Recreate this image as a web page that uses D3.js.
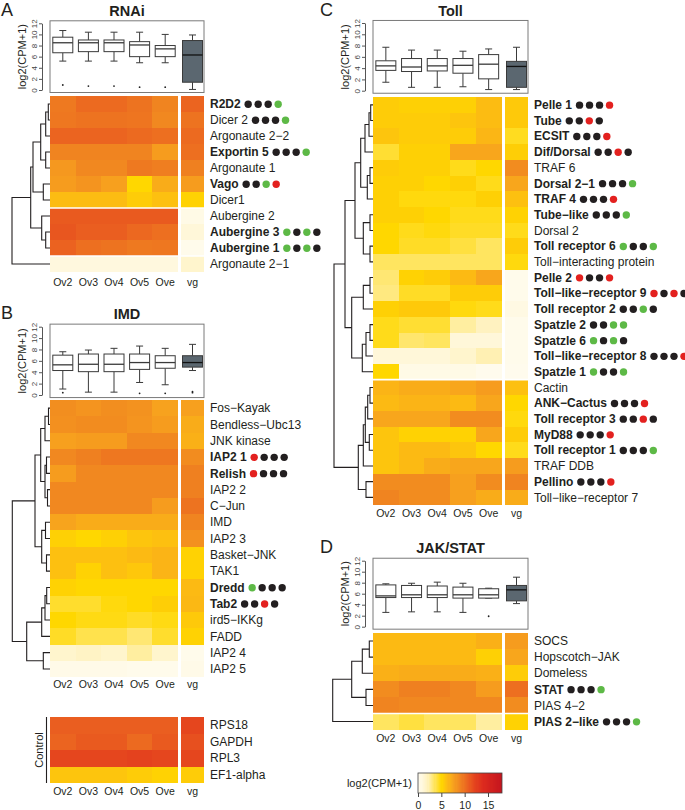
<!DOCTYPE html>
<html><head><meta charset="utf-8">
<script src="https://cdn.jsdelivr.net/npm/d3@7"></script>
<style>body{margin:0;background:#fff} svg{font-family:"Liberation Sans",Arial,Helvetica,sans-serif}</style>
</head><body><svg id="c" width="685" height="810"></svg>
<script>
const samples = ["Ov2","Ov3","Ov4","Ov5","Ove","vg"];
const yTicks = [0,2,4,6,8,10,12];
const legendTicks = [0,5,10,15];
const colorStops = [0, 2, 4, 5, 6, 7.5, 9, 10.5, 12, 14, 18];
const colorRange = ["#FFFCF2","#FFF2C0","#FFE040","#FFD700","#FDC010","#F7A21E","#F08420","#EB6420","#E5461E","#DC2A1E","#C4141E"];

// ---------- RNAi ----------
const rnaiGenes = ["R2D2","Dicer 2","Argonaute 2−2","Exportin 5","Argonaute 1","Vago","Dicer1","Aubergine 2","Aubergine 3","Aubergine 1","Argonaute 2−1"];
const rnaiValues = [
  [9.5,10.2,10.2,9.8,9.0,10.5],
  [9.6,9.8,9.8,9.7,8.8,9.8],
  [10.5,10.5,10.5,10.2,10.0,10.2],
  [9.0,9.0,9.0,9.0,7.8,10.0],
  [8.0,8.8,8.8,9.5,9.3,9.2],
  [7.8,8.2,7.6,5.0,7.0,7.8],
  [6.2,6.2,6.2,5.5,6.0,5.2],
  [11.0,11.0,11.0,11.0,11.0,0.5],
  [11.2,10.8,10.8,10.3,10.0,1.0],
  [10.6,10.0,9.8,9.5,9.6,0.3],
  [0.8,0.8,0.8,0.8,0.8,1.5]];
const rnaiDots = ["kkkg","kkkg","","kkkg","","kkgr","","","gkgk","gkgk",""];
const rnaiBold = [1,0,0,1,0,1,0,0,1,1,0];
const rnaiTree = [38,[19.3,[17,[9.3,[4.3,[1.7,0,1],2],[4.3,3,4]],[6.7,5,6]],[8.3,7,[4.3,8,9]]],10];
const rnaiGaps = [6,9];
// [low, q1, median, q3, high, outliers]
const rnaiBox = [
  [5.2,6.7,8.5,9.5,10.7,[0.9]],
  [5.2,6.9,8.5,9.0,10.4,[0.7]],
  [5.2,6.9,8.5,9.0,10.4,[0.7]],
  [4.9,6.0,8.1,8.7,10.4,[0.5]],
  [4.9,6.0,7.4,8.0,10.0,[0.5]],
  [0.1,1.4,6.3,8.9,9.9,[]]];

// ---------- IMD ----------
const imdGenes = ["Fos−Kayak","Bendless−Ubc13","JNK kinase","IAP2 1","Relish","IAP2 2","C−Jun","IMD","IAP2 3","Basket−JNK","TAK1","Dredd","Tab2","ird5−IKKg","FADD","IAP2 4","IAP2 5"];
const imdValues = [
  [8.5,8.2,8.5,8.3,7.5,7.6],
  [8.4,8.6,8.6,8.2,7.8,7.0],
  [7.6,7.8,7.8,8.8,8.8,6.8],
  [8.8,9.2,9.6,9.6,9.6,8.6],
  [7.8,8.8,8.8,8.8,8.8,9.2],
  [8.8,8.8,8.8,8.8,8.8,9.2],
  [8.8,8.8,8.8,8.8,7.8,9.8],
  [7.4,7.0,7.0,7.0,7.0,9.0],
  [5.3,5.0,5.3,5.8,6.0,8.4],
  [6.0,6.0,6.0,6.3,6.6,5.2],
  [6.0,5.2,6.0,5.7,6.6,5.2],
  [5.2,5.0,5.0,5.0,5.0,6.3],
  [4.3,4.3,4.8,5.0,5.4,6.4],
  [5.0,4.7,4.7,4.4,4.7,5.6],
  [4.4,3.8,3.8,3.2,4.3,5.2],
  [1.5,1.8,1.5,2.5,1.5,0.3],
  [0.4,0.4,0.4,0.3,0.3,0.4]];
const imdDots = ["","","","rkkk","rkkk","","","","","","","gkkk","kkrk","","","",""];
const imdBold = [0,0,0,1,1,0,0,0,0,0,0,1,1,0,0,0,0];
const imdTree = [37.7,[15,[9.3,[5,[1.5,0,1],2],[5,[3.5,3,4],[2.5,5,6]]],[8.3,[4.5,7,8],[3.5,9,10]]],[23.3,[8.3,[5,[3.3,11,12],13],14],[6.7,15,16]]];
const imdGaps = [];
const imdBox = [
  [1.05,4.3,5.3,7.0,7.6,[0.4]],
  [0.5,4.1,5.4,7.2,7.9,[]],
  [0.5,4.1,5.4,7.2,8.2,[]],
  [2.2,4.5,5.7,7.2,8.6,[0.3]],
  [1.8,4.7,5.7,6.9,8.2,[0.3]],
  [4.3,4.9,5.7,6.9,8.9,[0.4,0.6]]];

// ---------- Control ----------
const ctrlGenes = ["RPS18","GAPDH","RPL3","EF1-alpha"];
const ctrlValues = [
  [10.8,10.8,10.8,10.8,10.8,12.0],
  [10.5,11.0,11.0,10.2,11.0,11.5],
  [12.0,12.0,12.0,12.3,12.0,12.0],
  [5.8,5.8,5.8,5.5,5.2,5.5]];

// ---------- Toll ----------
const tollGenes = ["Pelle 1","Tube","ECSIT","Dif/Dorsal","TRAF 6","Dorsal 2−1","TRAF 4","Tube−like","Dorsal 2","Toll receptor 6","Toll−interacting protein","Pelle 2","Toll−like−receptor 9","Toll receptor 2","Spatzle 2","Spatzle 6","Toll−like−receptor 8","Spatzle 1","Cactin","ANK−Cactus","Toll receptor 3","MyD88","Toll receptor 1","TRAF DDB","Pellino","Toll−like−receptor 7"];
const tollValues = [
  [5.5,5.3,5.3,5.3,6.2,5.6],
  [5.5,5.5,5.5,5.8,6.2,5.6],
  [5.8,5.5,5.5,5.5,6.5,4.5],
  [4.2,5.3,5.3,7.3,7.3,5.4],
  [5.5,5.3,5.3,4.6,5.0,8.6],
  [5.3,5.3,5.0,5.3,4.6,7.3],
  [5.3,4.8,4.8,4.8,5.3,6.0],
  [5.3,5.3,5.0,4.6,4.6,5.2],
  [5.0,4.6,4.8,4.4,4.4,4.6],
  [5.0,4.4,4.4,4.0,3.5,5.5],
  [3.5,3.5,3.5,3.5,3.5,4.8],
  [3.2,5.2,5.5,6.3,7.3,0.3],
  [3.0,4.4,4.4,5.5,5.5,0.3],
  [5.3,5.6,5.6,4.8,4.6,0.6],
  [4.6,4.2,4.2,2.5,2.0,0.3],
  [4.6,3.3,3.5,1.0,1.0,0.3],
  [1.0,1.0,1.0,1.5,2.2,0.3],
  [5.0,0.5,0.5,0.5,0.2,0.2],
  [6.6,7.0,7.0,7.3,7.8,6.0],
  [6.3,6.6,6.6,6.3,7.3,5.0],
  [7.3,7.3,7.3,8.6,8.6,4.8],
  [5.8,5.2,5.2,5.2,7.3,5.5],
  [5.8,6.3,6.3,5.8,5.0,4.6],
  [5.8,6.3,7.0,7.3,7.3,7.8],
  [8.6,8.6,8.6,7.6,8.6,9.0],
  [9.0,8.6,8.6,7.6,7.0,7.0]];
const tollDots = ["kkkr","kkrk","kkkr","kkrk","","kkkg","kkkr","kkkg","","gkkg","","rkkr","rkrk","kkgk","kkgg","gkgk","kkkr","gkkg","","kkkr","kkrk","kkkr","kkkg","","kkkr",""];
const tollBold = tollDots.map(d => d ? 1 : 0);
const tollTree = [39,
  [28,
    [18,[12.3,[8,[4,[2.3,0,1],2],3],[5.7,[3,4,5],6]],[9.7,[3,7,8],[3,9,10]]],
    [21.3,[9.7,[3,11,12],13],[10.7,[7,[3,14,15],16],17]]],
  [14.7,[9.7,[7.7,[5.3,[3,18,19],20],[3.7,21,22]],23],[7,24,25]]];
const tollGaps = [17];
const tollBox = [
  [1.5,3.6,4.4,5.3,7.7,[]],
  [0.6,3.4,4.2,5.7,7.2,[]],
  [0.6,3.5,4.4,5.7,7.2,[]],
  [0.7,3.1,4.5,5.7,7.0,[]],
  [0.2,2.1,4.7,6.4,7.4,[]],
  [0.2,0.6,4.3,5.2,7.7,[]]];

// ---------- JAK/STAT ----------
const jakGenes = ["SOCS","Hopscotch−JAK","Domeless","STAT","PIAS 4−2","PIAS 2−like"];
const jakValues = [
  [6.3,6.3,6.3,6.3,6.8,7.8],
  [6.3,6.3,6.3,6.3,5.3,7.3],
  [6.8,7.0,7.0,7.0,6.8,5.5],
  [8.6,9.2,9.2,8.8,7.8,10.0],
  [9.0,8.8,8.8,8.8,8.8,8.6],
  [3.5,4.0,3.5,3.5,2.5,5.2]];
const jakDots = ["","","","kkkg","","kkkg"];
const jakBold = [0,0,0,1,0,1];
const jakTree = [40.3,[21.3,[10.7,[3.7,0,1],2],[7,3,4]],5];
const jakGaps = [4];
const jakBox = [
  [2.6,5.3,5.6,7.6,7.8,[]],
  [2.7,5.3,5.8,7.5,7.9,[]],
  [2.7,5.3,5.8,7.4,8.1,[]],
  [2.6,5.2,5.8,7.2,7.9,[]],
  [5.2,5.2,5.8,6.9,7.0,[1.9]],
  [4.2,4.7,6.7,7.5,9.0,[]]];

const svg = d3.select("#c");
const color = d3.scaleLinear().domain(colorStops).range(colorRange).interpolate(d3.interpolateRgb).clamp(true);
const dotColor = {k:"#231F20", g:"#5DB946", r:"#E3211F"};

function drawHeatmap(p) {
  const g = svg.append("g");
  const x5 = d3.scaleBand().domain(samples.slice(0,5)).range([p.left, p.left + 5*p.colW]);
  const vgLeft = p.left + 5*p.colW + p.gapW;
  const xL = s => s === "vg" ? vgLeft : x5(s);
  const xW = s => s === "vg" ? p.vgW : x5.bandwidth();
  const right = vgLeft + p.vgW;
  const y = d3.scaleBand().domain(d3.range(p.genes.length)).range([p.top, p.top + p.rowH*p.genes.length]);
  const cells = [];
  p.values.forEach((row,i) => row.forEach((v,j) => cells.push({i, s: samples[j], v})));
  g.append("g").attr("shape-rendering","crispEdges").selectAll("rect").data(cells).join("rect")
    .attr("x", d => xL(d.s)).attr("y", d => y(d.i))
    .attr("width", d => xW(d.s)).attr("height", y.bandwidth())
    .attr("fill", d => color(d.v));
  (p.gaps||[]).forEach(k => {
    g.append("line").attr("x1", p.left).attr("x2", right).attr("y1", y(k+1)).attr("y2", y(k+1))
      .attr("stroke","#fff").attr("stroke-width",1.6);
  });
  p.genes.forEach((name,i) => {
    const dots = (p.dots && p.dots[i]) || "";
    const bold = p.bold && p.bold[i];
    const t = g.append("text").attr("x", right + 6).attr("y", y(i) + y.bandwidth()/2).attr("dy","0.35em")
      .attr("font-size", 12).attr("fill","#231F20").attr("font-weight", bold ? "bold" : "normal").text(name);
    if (dots) {
      const end = right + 6 + t.node().getComputedTextLength();
      dots.split("").forEach((c,k) => {
        g.append("circle").attr("cx", end + 7.5 + k*10).attr("cy", y(i) + y.bandwidth()/2 + 0.3)
          .attr("r", 3.7).attr("fill", dotColor[c]);
      });
    }
  });
  samples.forEach(s => {
    g.append("text").attr("x", xL(s) + xW(s)/2).attr("y", p.colLabelY).attr("text-anchor","middle")
      .attr("font-size", 10.5).attr("fill","#231F20").text(s);
  });
  if (p.tree) {
    const xs = d3.scaleLinear().domain([0, p.tree[0]]).range([p.left, p.rootX]);
    const paths = [];
    function rec(n) {
      if (typeof n === "number") return {y: y(n) + y.bandwidth()/2, h: 0};
      const a = rec(n[1]), b = rec(n[2]);
      const X = xs(n[0]);
      paths.push(`M${xs(a.h)},${a.y}H${X}V${b.y}H${xs(b.h)}`);
      return {y: (a.y + b.y)/2, h: n[0]};
    }
    rec(p.tree);
    g.append("g").selectAll("path").data(paths).join("path").attr("d", d => d)
      .attr("fill","none").attr("stroke","#231F20").attr("stroke-width",1.1);
  }
  return {x5, vgLeft, xL, xW, right};
}

function drawBox(p, hm) {
  const g = svg.append("g");
  const ys = d3.scaleLinear().domain([0,12]).range([p.y0, p.y12]);
  const right = hm.right;
  g.append("rect").attr("x", p.left).attr("y", ys(12.45)).attr("width", right - p.left)
    .attr("height", ys(-0.45) - ys(12.45)).attr("fill","none").attr("stroke","#7a7a7a").attr("stroke-width",1);
  const ax = g.append("g").attr("transform", `translate(${p.left - 8},0)`).attr("color","#555")
    .call(d3.axisLeft(ys).tickValues(yTicks).tickSize(3).tickSizeOuter(0));
  ax.selectAll(".tick text").attr("transform","rotate(-90)").attr("x",0).attr("y",-5).attr("dy","0")
    .attr("text-anchor","middle").attr("font-size",8).attr("fill","#444").attr("font-family","Liberation Sans, Arial");
  g.append("text").attr("transform", `translate(${p.left - 24},${(ys(0)+ys(12))/2}) rotate(-90)`)
    .attr("text-anchor","middle").attr("font-size",11).attr("fill","#231F20").text("log2(CPM+1)");
  g.append("text").attr("x", (p.left + right)/2).attr("y", p.titleY).attr("text-anchor","middle")
    .attr("font-size",14.5).attr("font-weight","bold").attr("fill","#231F20").text(p.title);
  g.append("text").attr("x", p.letterX).attr("y", p.titleY).attr("font-size",18).attr("fill","#231F20").text(p.letter);
  p.box.forEach((b,i) => {
    const s = samples[i];
    const cx = hm.xL(s) + hm.xW(s)/2;
    const bw = 20;
    const isVg = s === "vg";
    const st = "#3a3a3a";
    g.append("line").attr("x1",cx).attr("x2",cx).attr("y1",ys(b[0])).attr("y2",ys(b[1])).attr("stroke",st);
    g.append("line").attr("x1",cx).attr("x2",cx).attr("y1",ys(b[3])).attr("y2",ys(b[4])).attr("stroke",st);
    g.append("line").attr("x1",cx-3.5).attr("x2",cx+3.5).attr("y1",ys(b[0])).attr("y2",ys(b[0])).attr("stroke",st);
    g.append("line").attr("x1",cx-3.5).attr("x2",cx+3.5).attr("y1",ys(b[4])).attr("y2",ys(b[4])).attr("stroke",st);
    g.append("rect").attr("x",cx-bw/2).attr("y",ys(b[3])).attr("width",bw).attr("height",ys(b[1])-ys(b[3]))
      .attr("fill", isVg ? "#5B6770" : "#fff").attr("stroke", st).attr("stroke-width",1);
    g.append("line").attr("x1",cx-bw/2).attr("x2",cx+bw/2).attr("y1",ys(b[2])).attr("y2",ys(b[2]))
      .attr("stroke", isVg ? "#111" : st).attr("stroke-width",1.3);
    b[5].forEach(o => g.append("circle").attr("cx",cx).attr("cy",ys(o)).attr("r",0.9).attr("fill","#222"));
  });
}

const baseA = {left:50, colW:25.6, gapW:3, vgW:23};
const baseC = {left:373, colW:25.7, gapW:3.5, vgW:23};

let hm = drawHeatmap({...baseA, genes:rnaiGenes, values:rnaiValues, dots:rnaiDots, bold:rnaiBold, tree:rnaiTree, rootX:12, top:96, rowH:16, gaps:rnaiGaps, colLabelY:286});
drawBox({left:50, y0:90, y12:23.3, box:rnaiBox, title:"RNAi", titleY:16, letter:"A", letterX:1}, hm);

hm = drawHeatmap({...baseA, genes:imdGenes, values:imdValues, dots:imdDots, bold:imdBold, tree:imdTree, rootX:12.3, top:400, rowH:16.3, gaps:imdGaps, colLabelY:688});
drawBox({left:50, y0:395, y12:326.7, box:imdBox, title:"IMD", titleY:319, letter:"B", letterX:1}, hm);

drawHeatmap({...baseA, genes:ctrlGenes, values:ctrlValues, dots:null, bold:null, tree:null, top:717, rowH:16.5, gaps:[], colLabelY:795});
svg.append("line").attr("x1",46.5).attr("x2",46.5).attr("y1",717).attr("y2",783).attr("stroke","#231F20").attr("stroke-width",1.1);
svg.append("text").attr("transform","translate(43,750) rotate(-90)").attr("text-anchor","middle")
  .attr("font-size",11).attr("fill","#231F20").text("Control");

hm = drawHeatmap({...baseC, genes:tollGenes, values:tollValues, dots:tollDots, bold:tollBold, tree:tollTree, rootX:334, top:97, rowH:15.7, gaps:tollGaps, colLabelY:517});
drawBox({left:373, y0:90.7, y12:23, box:tollBox, title:"Toll", titleY:16, letter:"C", letterX:320}, hm);

hm = drawHeatmap({...baseC, genes:jakGenes, values:jakValues, dots:jakDots, bold:jakBold, tree:jakTree, rootX:332.7, top:633, rowH:16.1, gaps:jakGaps, colLabelY:742});
drawBox({left:373, y0:626.7, y12:560.7, box:jakBox, title:"JAK/STAT", titleY:553, letter:"D", letterX:320}, hm);

// legend
const lx = d3.scaleLinear().domain([0,18]).range([418,502]);
const lg = svg.append("g");
const steps = d3.range(0, 18, 0.25);
lg.append("g").attr("shape-rendering","crispEdges").selectAll("rect").data(steps).join("rect")
  .attr("x", d => lx(d)).attr("y",773).attr("width", lx(0.25)-lx(0)+0.3).attr("height",20)
  .attr("fill", d => color(d + 0.125));
lg.append("rect").attr("x",lx(0)).attr("y",773).attr("width",lx(18)-lx(0)).attr("height",20)
  .attr("fill","none").attr("stroke","#444").attr("stroke-width",0.8);
const lax = lg.append("g").attr("transform","translate(0,793)").attr("color","#444")
  .call(d3.axisBottom(lx).tickValues(legendTicks).tickSize(4).tickSizeOuter(0));
lax.select(".domain").remove();
lax.selectAll(".tick text").attr("font-size",10.5).attr("fill","#231F20").attr("font-family","Liberation Sans, Arial").attr("dy","0.9em");
lg.append("text").attr("x",412).attr("y",787).attr("text-anchor","end").attr("font-size",11).attr("fill","#231F20").text("log2(CPM+1)");
</script></body></html>
